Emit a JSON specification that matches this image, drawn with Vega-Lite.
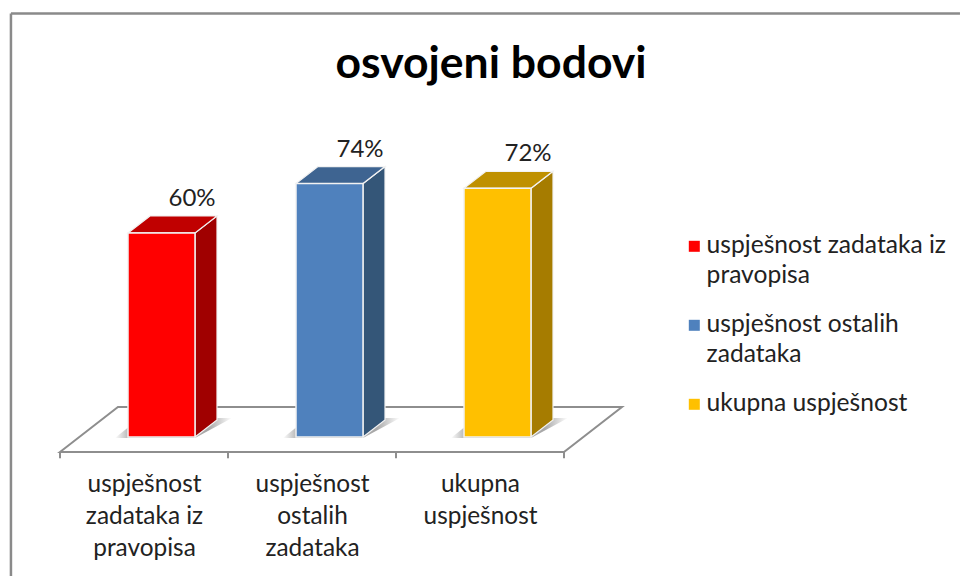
{
"$schema":"https://vega.github.io/schema/vega-lite/v6.json",
"width":960,"height":576,"padding":0,"autosize":{"type":"none"},
"background":"white",
"view":{"stroke":null},
"config":{"font":"Lato","style":{"guide-label":{"lineHeight":30}}},
"title":{"text":"osvojeni bodovi","font":"Lato","fontSize":44.5,"fontWeight":"bold","color":"#000000","anchor":"middle","frame":"group","dx":11,"dy":87,"offset":0},
"datasets":{
"bars":[
{"category":"uspješnost zadataka iz pravopisa","slot":1,"start":0.9048,"end":1.3036,"value":59.5,"label":"60%"},
{"category":"uspješnost ostalih zadataka","slot":2,"start":1.9048,"end":2.3036,"value":73.9,"label":"74%"},
{"category":"ukupna uspješnost","slot":3,"start":2.9048,"end":3.3036,"value":72.5,"label":"72%"}],
"faces":[
{"part":"A side","u":1.3036,"low":0,"high":59.5},{"part":"A side","u":1.4345,"low":4.96,"high":64.46},
{"part":"B side","u":2.3036,"low":0,"high":73.9},{"part":"B side","u":2.4345,"low":4.96,"high":78.86},
{"part":"C side","u":3.3036,"low":0,"high":72.5},{"part":"C side","u":3.4345,"low":4.96,"high":77.46},
{"part":"A top","u":0.9048,"low":59.5,"high":59.5},{"part":"A top","u":1.0357,"low":59.5,"high":64.46},{"part":"A top","u":1.3036,"low":59.5,"high":64.46},{"part":"A top","u":1.4345,"low":64.46,"high":64.46},
{"part":"B top","u":1.9048,"low":73.9,"high":73.9},{"part":"B top","u":2.0357,"low":73.9,"high":78.86},{"part":"B top","u":2.3036,"low":73.9,"high":78.86},{"part":"B top","u":2.4345,"low":78.86,"high":78.86},
{"part":"C top","u":2.9048,"low":72.5,"high":72.5},{"part":"C top","u":3.0357,"low":72.5,"high":77.46},{"part":"C top","u":3.3036,"low":72.5,"high":77.46},{"part":"C top","u":3.4345,"low":77.46,"high":77.46}],
"floor":[{"u":0.5,"low":-4.37,"high":-4.37},{"u":0.845,"low":-4.37,"high":8.75},{"u":3.5,"low":-4.37,"high":8.75},{"u":3.845,"low":8.75,"high":8.75}],
"shadow":[
{"bar":"A","u":0.827,"low":-0.29,"high":-0.29},{"bar":"A","u":0.976,"low":-0.29,"high":5.54},{"bar":"A","u":1.3036,"low":-0.29,"high":5.54},{"bar":"A","u":1.5238,"low":5.54,"high":5.54},
{"bar":"B","u":1.827,"low":-0.29,"high":-0.29},{"bar":"B","u":1.976,"low":-0.29,"high":5.54},{"bar":"B","u":2.3036,"low":-0.29,"high":5.54},{"bar":"B","u":2.5238,"low":5.54,"high":5.54},
{"bar":"C","u":2.827,"low":-0.29,"high":-0.29},{"bar":"C","u":2.976,"low":-0.29,"high":5.54},{"bar":"C","u":3.3036,"low":-0.29,"high":5.54},{"bar":"C","u":3.5238,"low":5.54,"high":5.54}],
"ticks":[{"u":0.5},{"u":1.5},{"u":2.5},{"u":3.5}]
},
"layer":[
{"data":{"values":[{"a":0.208,"b":5.857,"v":123.47}]},
 "mark":{"type":"rule","color":"#8a8a8a","strokeWidth":2.5},
 "encoding":{"x":{"field":"a","type":"quantitative","scale":{"domain":[0.142857,5.857143],"nice":false,"zero":false},"axis":{"values":[1,2,3],"orient":"bottom","offset":-124,"title":null,"domain":false,"ticks":false,"grid":false,"labelFont":"Lato","labelFontSize":24.4,"labelColor":"#222222","labelPadding":20,"labelLineHeight":32,"labelBaseline":"top","labelOverlap":false,"labelBound":false,"labelFlush":false,"labelAlign":"center","labelAngle":0,"labelLimit":300,
   "labelExpr":"datum.value==1?['uspješnost','zadataka iz','pravopisa']:datum.value==2?['uspješnost','ostalih','zadataka']:['ukupna','uspješnost']"}},"x2":{"field":"b"},"y":{"field":"v","type":"quantitative","scale":{"domain":[-40.52,127.41],"nice":false,"zero":false},"axis":null}}},
{"data":{"values":[{"a":0.208,"v":123.47,"w":-40.52}]},
 "mark":{"type":"rule","color":"#8a8a8a","strokeWidth":2.5},
 "encoding":{"x":{"field":"a","type":"quantitative"},"y":{"field":"v","type":"quantitative"},"y2":{"field":"w"}}},
{"data":{"name":"floor"},
 "mark":{"type":"area","fill":"#ffffff","stroke":"#8e8e8e","strokeWidth":2},
 "encoding":{"x":{"field":"u","type":"quantitative"},"y":{"field":"high","type":"quantitative","stack":null},"y2":{"field":"low"}}},
{"data":{"name":"shadow"},
 "mark":{"type":"area","fill":{"gradient":"linear","x1":0,"x2":1,"y1":0,"y2":0,"stops":[{"offset":0,"color":"#ffffff"},{"offset":0.12,"color":"#b5b5b5"},{"offset":0.8,"color":"#a8a8a8"},{"offset":1,"color":"#ffffff"}]}},
 "encoding":{"x":{"field":"u","type":"quantitative"},"y":{"field":"high","type":"quantitative","stack":null},"y2":{"field":"low"},"detail":{"field":"bar"}}},
{"data":{"name":"faces"},
 "mark":{"type":"area","stroke":"#f2f2f2","strokeWidth":1.2},
 "encoding":{"x":{"field":"u","type":"quantitative"},"y":{"field":"high","type":"quantitative","stack":null},"y2":{"field":"low"},
  "fill":{"field":"part","type":"nominal","legend":null,"scale":{"domain":["A side","B side","C side","A top","B top","C top"],"range":["#A00000","#345678","#A67C00","#C00000","#3E6491","#BF9000"]}}}},
{"data":{"name":"bars"},
 "mark":{"type":"rect","stroke":"#f2f2f2","strokeWidth":1.5},
 "encoding":{"x":{"field":"start","type":"quantitative"},
  "x2":{"field":"end"},
  "y":{"field":"value","type":"quantitative","stack":null},"y2":{"datum":0},
  "color":{"field":"category","type":"nominal","scale":{"domain":["uspješnost zadataka iz pravopisa","uspješnost ostalih zadataka","ukupna uspješnost"],"range":["#FF0000","#4F81BD","#FFC000"]},
   "legend":{"orient":"none","legendX":682,"legendY":234,"title":null,"symbolType":"square","symbolSize":121,"symbolStrokeWidth":0,"labelFont":"Lato","labelFontSize":24.6,"labelColor":"#222222","labelLimit":400,"labelOffset":0,"rowPadding":24,
    "labelExpr":"datum.value=='uspješnost zadataka iz pravopisa'?['uspješnost zadataka iz','pravopisa']:datum.value=='uspješnost ostalih zadataka'?['uspješnost ostalih','zadataka']:datum.value"}}}},
{"data":{"name":"bars"},
 "mark":{"type":"text","font":"Lato","fontSize":24,"color":"#222222","dx":48,"dy":-27,"baseline":"alphabetic","align":"center"},
 "encoding":{"x":{"field":"slot","type":"quantitative"},"y":{"field":"value","type":"quantitative","stack":null},"text":{"field":"label"}}},
{"data":{"values":[{"a":0.5,"b":3.5,"v":-4.37}]},
 "mark":{"type":"rule","color":"#8e8e8e","strokeWidth":2},
 "encoding":{"x":{"field":"a","type":"quantitative"},"x2":{"field":"b"},"y":{"field":"v","type":"quantitative"}}},
{"data":{"name":"ticks"},
 "mark":{"type":"rule","color":"#8e8e8e","strokeWidth":2},
 "encoding":{"x":{"field":"u","type":"quantitative"},"y":{"datum":-4.37},"y2":{"datum":-6.2}}}
]
}
